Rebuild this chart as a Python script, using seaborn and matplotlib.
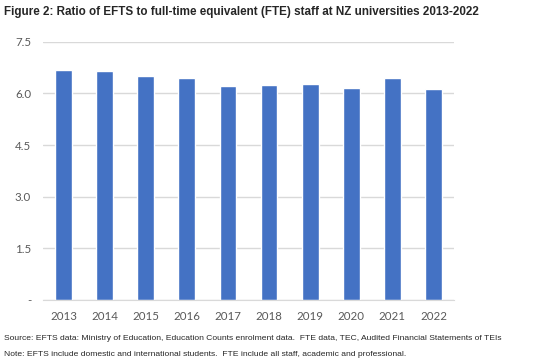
import matplotlib
matplotlib.use("Agg")
import matplotlib.pyplot as plt
import pandas as pd
import seaborn as sns

# Values
years = ["2013", "2014", "2015", "2016", "2017", "2018", "2019", "2020", "2021", "2022"]
ratios = [6.68, 6.65, 6.50, 6.45, 6.22, 6.24, 6.27, 6.15, 6.45, 6.12]
y_ticks = [0, 1.5, 3.0, 4.5, 6.0, 7.5]
y_labels = ["-", "1.5", "3.0", "4.5", "6.0", "7.5"]

title = "Figure 2: Ratio of EFTS to full-time equivalent (FTE) staff at NZ universities 2013-2022"
notes = [
	"Source: EFTS data: Ministry of Education, Education Counts enrolment data.  FTE data, TEC, Audited Financial Statements of TEIs",
	"Note: EFTS include domestic and international students.  FTE include all staff, academic and professional.",
]

data = pd.DataFrame({"year": years, "ratio": ratios})

sns.set_style("white")
narrow = ["Liberation Sans Narrow", "Liberation Sans", "DejaVu Sans"]
plt.rcParams["font.family"] = ["Lato", "DejaVu Sans"]

fig = plt.figure(figsize = (5.42, 3.64), dpi = 100)
ax = fig.add_axes([43 / 542, 1 - 300 / 364, 411 / 542, 258.3 / 364])

sns.barplot(x = "year", y = "ratio", data = data, color = "#4472C4", saturation = 1, width = 0.41, ax = ax)

ax.set_ylim(0, 7.5)
ax.set_yticks(y_ticks)
ax.set_yticklabels(y_labels)
ax.set(xlabel = "", ylabel = "")
ax.yaxis.grid(True, color = "#D9D9D9", linewidth = 1)
ax.set_axisbelow(True)
for side in ["top", "right", "left"]:
	ax.spines[side].set_visible(False)
ax.spines["bottom"].set_color("#D9D9D9")
ax.tick_params(axis = "both", length = 0, labelsize = 8.3, colors = "#595959")
ax.tick_params(axis = "x", pad = 8)
ax.tick_params(axis = "y", pad = 8.5)

fig.text(4 / 542, 1 - 12 / 364, title, fontsize = 8.4, fontweight = "bold", family = narrow, va = "center", ha = "left")
fig.text(4 / 542, 1 - 338 / 364, notes[0], fontsize = 6.1, family = narrow, va = "center", ha = "left")
fig.text(4 / 542, 1 - 355 / 364, notes[1], fontsize = 6.1, family = narrow, va = "center", ha = "left")

fig.savefig("out.png", dpi = 100)
